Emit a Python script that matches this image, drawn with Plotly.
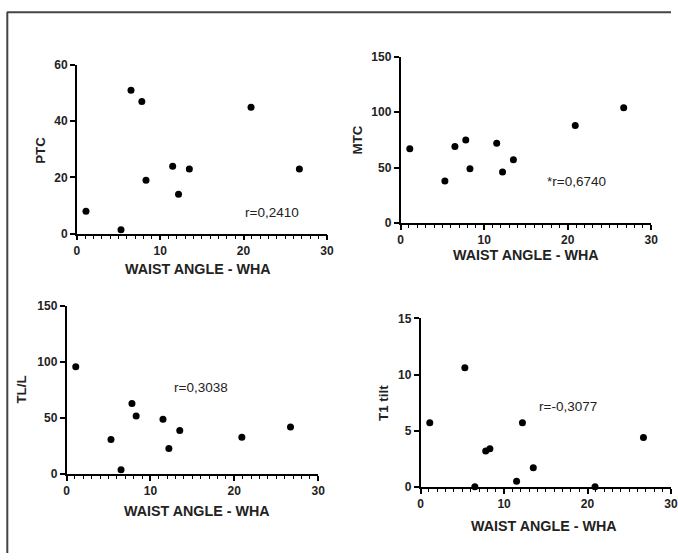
import plotly.graph_objects as go

W, H = 678, 560

# ---- data ----
wha = [1.1, 5.3, 6.5, 7.8, 8.3, 11.5, 12.2, 13.5, 20.9, 26.7]
ptc = [8, 1.4, 51, 47, 19, 24, 14, 23, 45, 23]
mtc = [67, 38, 69, 75, 49, 72, 46, 57, 88, 104]
tll = [96, 31, 4, 63, 52, 49, 23, 39, 33, 42]
t1_tilt = [5.7, 10.6, 0, 3.2, 3.4, 0.5, 5.7, 1.7, 0, 4.4]

x_title = "WAIST ANGLE - WHA"
y_titles = ["PTC", "MTC", "TL/L", "T1 tilt"]
r_texts = ["r=0,2410", "*r=0,6740", "r=0,3038", "r=-0,3077"]
x_ticks = [0, 10, 20, 30]
y_ticks = [[0, 20, 40, 60], [0, 50, 100, 150], [0, 50, 100, 150], [0, 5, 10, 15]]
y_ranges = [[0, 60], [0, 150], [0, 150], [0, 15]]
series = [ptc, mtc, tll, t1_tilt]

# ---- layout helpers: target picture pixel -> page pixel -> paper ----
SX, OX, SY, OY = 0.985, 3.2, 0.977, 6.2  # observed page->picture mapping

def px(x):
    return min(max(((x - OX) / SX) / W, 0), 1)

def py(y):
    return min(max(1 - ((y - OY) / SY) / H, 0), 1)

# plot areas in target pixels: (left, right, top, bottom)
areas = [
    (77, 327, 64.3, 233.3),
    (400.7, 651.3, 56, 222.7),
    (66.7, 318.3, 306, 474.3),
    (420.7, 671.3, 318.3, 487),
]
# text positions in target pixels
xtitle_pos = [(198, 269), (526, 255), (197.5, 511), (544, 526)]
ytitle_pos = [(40.5, 150), (358, 139), (21.7, 390), (384, 403)]
r_pos = [(23.4, 7.5), (21.0, 37.5), (16.0, 77), (17.6, 7.2)]

FONT = "Liberation Sans, Arial, sans-serif"
tickfont = dict(family=FONT, size=12, color="#222", weight="bold")

fig = go.Figure()
annotations = []
for i in range(4):
    sfx = "" if i == 0 else str(i + 1)
    fig.add_trace(go.Scatter(
        x=wha, y=series[i], mode="markers",
        marker=dict(color="black", size=7),
        cliponaxis=False, showlegend=False,
        xaxis="x" + sfx, yaxis="y" + sfx,
    ))
    l, r, t, b = areas[i]
    fig.layout["xaxis" + sfx] = dict(
        domain=[px(l), px(r)], anchor="y" + sfx, range=[0, 30],
        tickvals=x_ticks, showline=True, linecolor="black", linewidth=1.6,
        ticks="outside", ticklen=5, tickwidth=1.6, tickcolor="black",
        minor=dict(dtick=1, tick0=0, ticks="outside", ticklen=3.5, tickwidth=1.2, tickcolor="black"),
        showgrid=False, zeroline=False, tickfont=tickfont,
    )
    fig.layout["yaxis" + sfx] = dict(
        domain=[py(b), py(t)], anchor="x" + sfx, range=y_ranges[i],
        tickvals=y_ticks[i], showline=True, linecolor="black", linewidth=1.6,
        ticks="outside", ticklen=5, tickwidth=1.6, tickcolor="black",
        showgrid=False, zeroline=False, tickfont=tickfont,
    )
    annotations.append(dict(
        x=r_pos[i][0], y=r_pos[i][1], xref="x" + sfx, yref="y" + sfx,
        text=r_texts[i], showarrow=False,
        font=dict(family=FONT, size=13.5, color="#222"),
    ))
    annotations.append(dict(
        x=px(xtitle_pos[i][0]), y=py(xtitle_pos[i][1]), xref="paper", yref="paper",
        text=x_title, showarrow=False, xanchor="center", yanchor="middle",
        font=dict(family=FONT, size=14.3, color="#222", weight="bold"),
    ))
    annotations.append(dict(
        x=px(ytitle_pos[i][0]), y=py(ytitle_pos[i][1]), xref="paper", yref="paper",
        text=y_titles[i], showarrow=False, textangle=-90, xanchor="center", yanchor="middle",
        font=dict(family=FONT, size=13.3, color="#222", weight="bold"),
    ))

shapes = [
    dict(type="line", xref="paper", yref="paper", x0=px(7), x1=1, y0=py(11.5), y1=py(11.5),
         line=dict(color="#444", width=2)),
    dict(type="line", xref="paper", yref="paper", x0=px(7.5), x1=px(7.5), y0=py(11.5), y1=0,
         line=dict(color="#444", width=2)),
]

fig.update_layout(
    width=W, height=H, margin=dict(l=0, r=0, t=0, b=0),
    paper_bgcolor="white", plot_bgcolor="white",
    annotations=annotations, shapes=shapes, showlegend=False,
)

fig.write_html(
    "out.html",
    config={"displayModeBar": False},
    post_script="document.body.style.margin='0';document.body.style.overflow='hidden';",
)
